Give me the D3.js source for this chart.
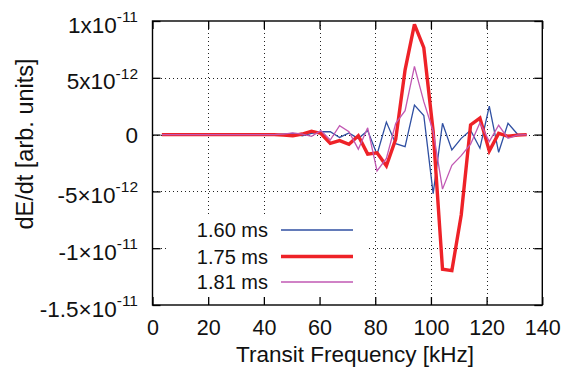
<!DOCTYPE html>
<html>
<head>
<meta charset="utf-8">
<script src="https://cdn.jsdelivr.net/npm/d3@7"></script>
<style>
  html, body { margin: 0; padding: 0; background: #fff; }
  svg { display: block; font-family: "Liberation Sans", Arial, Helvetica, sans-serif; }
</style>
</head>
<body>
<svg id="chart" width="561" height="370"></svg>
<script>
// ---- data (y in units of 1e-12) ----
const freqs = [3.36, 6.72, 10.08, 13.44, 16.8, 20.16, 23.52, 26.88, 30.24, 33.6,
  36.96, 40.32, 43.68, 47.04, 50.4, 53.76, 57.12, 60.48, 63.84, 67.2,
  70.56, 73.92, 77.28, 80.64, 84.0, 87.36, 90.72, 94.08, 97.44, 100.8,
  104.16, 107.52, 110.88, 114.24, 117.6, 120.96, 124.32, 127.68, 131.04, 134.4];

const s160 = [0, 0, 0, 0, 0, 0, 0, 0, 0, 0,
  0, 0, 0, 0.05, 0.1, -0.1, 0.1, 0.25, 0.25, -0.25,
  0.15, -0.35, 0.35, -1.75, 1.1, -0.8, -1.06, 2.6, 1.68, -5.2,
  1.0, -1.35, -0.33, 0.38, -1.2, 2.5, -1.56, 1.0, 0.05, 0];

const s175 = [0, 0, 0, 0, 0, 0, 0, 0, 0, 0,
  0, 0, 0, -0.05, -0.1, 0.05, 0.3, 0.1, -0.77, -0.53,
  -0.85, -0.1, -1.72, -1.6, -2.75, -0.4, 5.7, 9.7, 7.65, 0.3,
  -11.85, -11.97, -7.07, 0.85, 1.45, -1.45, 0.11, -0.15, -0.05, 0];

const s181 = [0, 0, 0, 0, 0, 0, 0, 0, 0, 0,
  0, 0, 0, 0.05, 0.15, 0.05, -0.15, 0.35, -0.48, 0.78,
  0.26, -1.28, 0.6, -3.2, -2.1, 1.0, 2.1, 6.0, 2.9, 0.3,
  -4.8, -2.7, -1.85, -0.85, 1.05, -0.62, 0.82, -0.33, -0.05, 0];

const seriesNames = ["1.60 ms", "1.75 ms", "1.81 ms"];
const seriesValues = [s160, s175, s181];
const seriesColors = ["#2f4fa2", "#ee2228", "#c158b3"];
const seriesWidths = [1.3, 3.4, 1.3];

const xTicks = [0, 20, 40, 60, 80, 100, 120, 140];
const yTicks = [10, 5, 0, -5, -10, -15];
const yTickMantissa = ["1x10", "5x10", "0", "-5\u00d710", "-1\u00d710", "-1.5\u00d710"];
const yTickExponent = ["-11", "-12", "", "-12", "-11", "-11"];

const xTitle = "Transit Frequency [kHz]";
const yTitle = "dE/dt [arb. units]";

// ---- layout ----
const L = 152.5, R = 542.3, T = 21, B = 305;
const svg = d3.select("#chart");

const x = d3.scaleLinear().domain([0, 140]).range([L, R]);
const y = d3.scaleLinear().domain([-15, 10]).range([B, T]);

// grid
const grid = svg.append("g").attr("stroke", "#222").attr("stroke-width", 1)
  .attr("stroke-dasharray", "1,3").attr("shape-rendering", "crispEdges");
xTicks.filter(v => v > 0 && v < 140).forEach(v => {
  grid.append("line").attr("x1", Math.round(x(v)) + 0.5).attr("x2", Math.round(x(v)) + 0.5)
    .attr("y1", T).attr("y2", B);
});
yTicks.filter(v => v > -15 && v < 10).forEach(v => {
  grid.append("line").attr("y1", Math.round(y(v)) + 0.5).attr("y2", Math.round(y(v)) + 0.5)
    .attr("x1", L).attr("x2", R);
});

// opaque legend background
svg.append("rect").attr("x", 166).attr("y", 216).attr("width", 202).attr("height", 86)
  .attr("fill", "#fff");

// data lines
const line = d3.line().x((d, i) => x(freqs[i])).y(d => y(d));
seriesValues.forEach((vals, i) => {
  svg.append("path").datum(vals)
    .attr("fill", "none")
    .attr("stroke", seriesColors[i])
    .attr("stroke-width", seriesWidths[i])
    .attr("stroke-linejoin", "miter")
    .attr("stroke-miterlimit", 3)
    .attr("d", line);
});

// frame
svg.append("rect").attr("x", L).attr("y", T).attr("width", R - L).attr("height", B - T)
  .attr("fill", "none").attr("stroke", "#000").attr("stroke-width", 1.4);

// axes with inward ticks (mirrored)
const tickLen = 8;
const axB = d3.axisBottom(x).tickValues(xTicks).tickSize(-tickLen).tickFormat(d3.format("d"));
const axT = d3.axisTop(x).tickValues(xTicks).tickSize(-tickLen).tickFormat("");
const axL = d3.axisLeft(y).tickValues(yTicks).tickSize(-tickLen).tickFormat("");
const axR = d3.axisRight(y).tickValues(yTicks).tickSize(-tickLen).tickFormat("");

function styleAxis(g) {
  g.select(".domain").remove();
  g.selectAll(".tick line").attr("stroke", "#000").attr("stroke-width", 1.3);
}
const gB = svg.append("g").attr("transform", `translate(0,${B})`).call(axB).call(styleAxis);
gB.selectAll(".tick text").attr("font-size", 21.5).attr("fill", "#111")
  .attr("font-family", "'Liberation Sans', Arial, sans-serif").attr("dy", null).attr("y", 30);
svg.append("g").attr("transform", `translate(0,${T})`).call(axT).call(styleAxis);
svg.append("g").attr("transform", `translate(${L},0)`).call(axL).call(styleAxis);
svg.append("g").attr("transform", `translate(${R},0)`).call(axR).call(styleAxis);

// y tick labels with superscripts
yTicks.forEach((v, i) => {
  const t = svg.append("text")
    .attr("x", 138).attr("text-anchor", "end")
    .attr("font-size", 22.5).attr("fill", "#111");
  if (yTickExponent[i]) {
    t.attr("y", y(v) + 11.5);
    t.append("tspan").text(yTickMantissa[i]);
    t.append("tspan").attr("dy", -10.5).attr("font-size", 15.5).text(yTickExponent[i]);
  } else {
    t.attr("y", y(v) + 8).text(yTickMantissa[i]);
  }
});

// axis titles
svg.append("text").attr("x", 355).attr("y", 362).attr("text-anchor", "middle")
  .attr("font-size", 22.5).attr("fill", "#111").text(xTitle);
svg.append("text").attr("transform", "translate(33,144) rotate(-90)")
  .attr("text-anchor", "middle").attr("font-size", 23.5).attr("fill", "#111").text(yTitle);

// legend
const legY = [230, 256.5, 282];
seriesNames.forEach((name, i) => {
  svg.append("text").attr("x", 268).attr("y", legY[i] + 7).attr("text-anchor", "end")
    .attr("font-size", 20).attr("fill", "#111").text(name);
  svg.append("line").attr("x1", 281).attr("x2", 353).attr("y1", legY[i]).attr("y2", legY[i])
    .attr("stroke", seriesColors[i]).attr("stroke-width", seriesWidths[i]);
});
</script>
</body>
</html>
